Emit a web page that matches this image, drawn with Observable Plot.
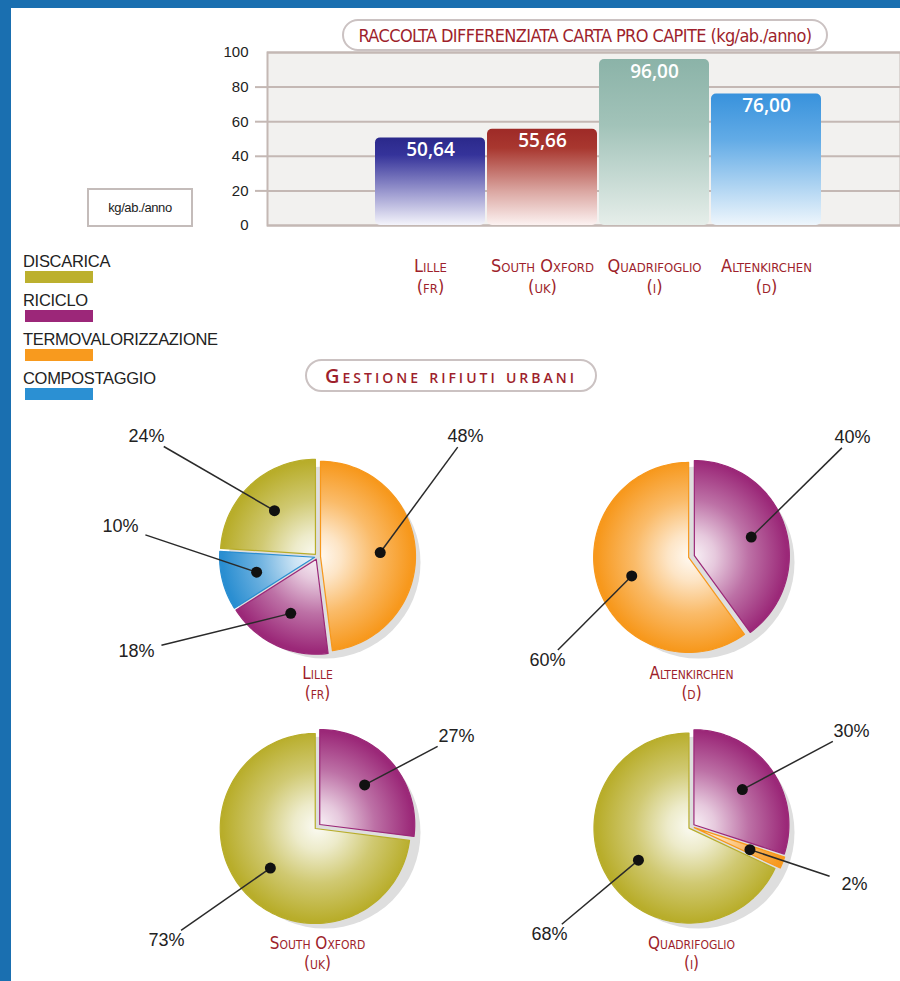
<!DOCTYPE html>
<html>
<head>
<meta charset="utf-8">
<script src="https://cdn.jsdelivr.net/npm/d3@7"></script>
<script src="https://cdn.jsdelivr.net/npm/@observablehq/plot@0.6"></script>
<style>
html, body { margin: 0; padding: 0; background: #fff; }
#page { position: relative; width: 900px; height: 981px; overflow: hidden; background: #fff; font-family: "Liberation Sans", Arial, sans-serif; }
.band { position: absolute; background: #1a6fb0; z-index: 5; }
.pill { position: absolute; box-sizing: border-box; background: #fff; border: 2px solid #cbc2c2; border-radius: 17px; display: flex; align-items: center; justify-content: center; color: #9e1f2c; white-space: nowrap; z-index: 3; }
#title1 { left: 342px; top: 19px; width: 486px; height: 32px; font-family: "DejaVu Sans Condensed", "Liberation Sans Narrow", sans-serif; font-size: 18px; letter-spacing: -0.6px; }
#title2 { left: 305px; top: 359px; width: 292px; height: 33px; font-family: "Open Sans", sans-serif; font-weight: 600; font-size: 20px; font-variant: small-caps; letter-spacing: 3px; }
#unitbox { position: absolute; left: 87px; top: 188px; width: 106px; height: 39px; box-sizing: border-box; border: 2px solid #c4bcba; background: #fff; font-size: 13px; letter-spacing: -0.4px; color: #222; display: flex; align-items: center; justify-content: center; z-index: 3; }
.legend-item { position: absolute; left: 23px; font-size: 16.5px; letter-spacing: -0.3px; color: #222; line-height: 15px; }
.legend-swatch { position: absolute; left: 25px; width: 68px; height: 12px; }
#bars, #pies { position: absolute; left: 0; }
#bars { top: 0; }
#pies { top: 400px; }
</style>
</head>
<body>
<div id="page">
  <div class="band" style="left:0;top:0;width:900px;height:8px"></div>
  <div class="band" style="left:0;top:0;width:11px;height:981px"></div>
  <div id="bars"></div>
  <div id="pies"></div>
  <div class="pill" id="title1">RACCOLTA DIFFERENZIATA CARTA PRO CAPITE (kg/ab./anno)</div>
  <div id="unitbox">kg/ab./anno</div>
  <div class="pill" id="title2">Gestione rifiuti urbani</div>
  <div id="legend"></div>
</div>
<script>
// ---------------- DATA ----------------
const cities = ["Lille", "South Oxford", "Quadrifoglio", "Altenkirchen"];
const countryCodes = ["fr", "uk", "i", "d"];
const paperPerCapita = [50.64, 55.66, 96.00, 76.00];
const yTicks = [0, 20, 40, 60, 80, 100];

const legendCategories = ["Discarica", "Riciclo", "Termovalorizzazione", "Compostaggio"];

const pieCities = ["Lille", "Altenkirchen", "South Oxford", "Quadrifoglio"];
const pieCountries = ["fr", "d", "uk", "i"];
const lilleCats = ["Termovalorizzazione", "Riciclo", "Compostaggio", "Discarica"];
const lilleShares = [48, 18, 10, 24];
const altenkirchenCats = ["Riciclo", "Termovalorizzazione"];
const altenkirchenShares = [40, 60];
const southOxfordCats = ["Riciclo", "Discarica"];
const southOxfordShares = [27, 73];
const quadrifoglioCats = ["Riciclo", "Termovalorizzazione", "Discarica"];
const quadrifoglioShares = [30, 2, 68];

// ---------------- STYLE / LAYOUT ----------------
const catColors = {
  Discarica: "#b8ad2a",
  Riciclo: "#9b2878",
  Termovalorizzazione: "#f7981c",
  Compostaggio: "#2a8ed1"
};
const legendColors = {
  Discarica: "#bcb02e",
  Riciclo: "#9c2779",
  Termovalorizzazione: "#f89a1e",
  Compostaggio: "#2b90d3"
};
const barStops = [
  [["0", "#2b298b"], ["0.2", "#35339a"], ["0.65", "#a19fd2"], ["1", "#f4f4fb"]],
  [["0", "#9e2a27"], ["0.2", "#a8372f"], ["0.65", "#dba7a2"], ["1", "#fcf2f1"]],
  [["0", "#8bb3a8"], ["0.4", "#a2c3b9"], ["1", "#e6eeea"]],
  [["0", "#3892dc"], ["0.35", "#62abe6"], ["1", "#eef6fc"]]
];
const pieGrid = { "Lille": [0, 0], "Altenkirchen": [1, 0], "South Oxford": [0, 1], "Quadrifoglio": [1, 1] };
const gridX = [317, 691];
const gridY = [156, 426];
const R = 95;
const EXPLODE = 3;
// text-centre offsets of the percentage labels from each pie centre (annotation layout)
const labelOffsets = {
  "Lille": [[148, -120], [-181, 95], [-197, -30], [-171, -120]],
  "Altenkirchen": [[161, -119], [-144, 104]],
  "South Oxford": [[139, -90], [-151, 114]],
  "Quadrifoglio": [[160, -95], [163, 58], [-142, 108]]
};
const red = "#9e1f2c";
const capsFont = "DejaVu Sans Condensed, sans-serif";

const page = d3.select("#page");

// ---------- gradient defs ----------
const defsSvg = page.append("svg").attr("width", 0).attr("height", 0)
  .style("position", "absolute").style("left", 0).style("top", 0);
const defs = defsSvg.append("defs");
barStops.forEach((stops, i) => {
  const g = defs.append("linearGradient").attr("id", "bar" + i)
    .attr("x1", 0).attr("y1", 0).attr("x2", 0).attr("y2", 1);
  stops.forEach(([o, c]) => g.append("stop").attr("offset", o).attr("stop-color", c));
});

// ---------- legend ----------
const legend = d3.select("#legend");
legendCategories.forEach((c, i) => {
  const top = 254 + i * 39;
  legend.append("div").attr("class", "legend-item").style("top", top + "px").text(c.toUpperCase());
  legend.append("div").attr("class", "legend-swatch").style("top", (top + 17) + "px").style("background", legendColors[c]);
});

// ---------- bar chart ----------
const fmt = v => d3.format(".2f")(v).replace(".", ",");
const barData = cities.map((c, i) => ({ city: c, country: countryCodes[i], value: paperPerCapita[i], grad: `url(#bar${i})` }));

const barPlot = Plot.plot({
  width: 900,
  height: 300,
  marginTop: 52,
  marginBottom: 75,
  marginLeft: 267,
  marginRight: 0,
  style: { background: "transparent", overflow: "visible", fontFamily: "Liberation Sans, Arial, sans-serif" },
  x: { domain: cities, range: [371, 824], padding: 0.02, axis: null, label: null },
  y: { domain: [0, 100], axis: null, label: null },
  color: { type: "identity" },
  marks: [
    Plot.frame({ fill: "#f2f1ef", stroke: "#c4b8b4", strokeWidth: 2 }),
    Plot.ruleY(yTicks, { stroke: "#c4b8b4", strokeWidth: 2 }),
    Plot.axisY(yTicks.filter(v => v > 0 && v < 100), { tickSize: 12, tickFormat: () => "", stroke: "#c4b8b4", strokeWidth: 2, label: null }),
    Plot.axisY(yTicks, { tickSize: 0, tickPadding: 19, fontSize: 15, color: "#222", label: null }),
    Plot.barY(barData, { x: "city", y: "value", fill: "grad", rx: 5 }),
    Plot.text(barData, { x: "city", y: "value", text: d => fmt(d.value), dy: 12, fill: "white", fontSize: 19, fontWeight: 600, fontFamily: "Open Sans, sans-serif" }),
    Plot.text(barData, { x: "city", y: 0, text: d => `${d.city}\n(${d.country})`, dy: 31, lineAnchor: "top", lineHeight: 1.2, fill: red, fontSize: 18, fontVariant: "small-caps", fontFamily: capsFont, letterSpacing: "-0.6px" })
  ]
});
document.getElementById("bars").appendChild(barPlot);

// ---------- pies ----------
const pieSets = [
  ["Lille", lilleCats, lilleShares],
  ["Altenkirchen", altenkirchenCats, altenkirchenShares],
  ["South Oxford", southOxfordCats, southOxfordShares],
  ["Quadrifoglio", quadrifoglioCats, quadrifoglioShares]
];

const pieCenters = pieCities.map((name, i) => {
  const [gx, gy] = pieGrid[name];
  return { name, country: pieCountries[i], x: gridX[gx], y: gridY[gy] };
});

const slicePts = [];
const labels = [];
pieSets.forEach(([name, cats, shares], pi) => {
  const c = pieCenters.find(p => p.name === name);
  const total = d3.sum(shares);
  cats.forEach(cat => {
    const col = catColors[cat];
    const g = defs.append("radialGradient").attr("id", `pie${pi}-${cat}`)
      .attr("gradientUnits", "userSpaceOnUse")
      .attr("cx", c.x).attr("cy", c.y).attr("r", R).attr("fx", c.x).attr("fy", c.y);
    [[0, 0.05], [0.25, 0.25], [0.6, 0.66], [1, 1]].forEach(([o, t]) =>
      g.append("stop").attr("offset", o).attr("stop-color", d3.interpolateRgb("#ffffff", col)(t)));
  });
  let acc = 0;
  cats.forEach((cat, i) => {
    const a0 = acc / total * 2 * Math.PI;
    acc += shares[i];
    const a1 = acc / total * 2 * Math.PI;
    const mid = (a0 + a1) / 2;
    const ox = c.x + EXPLODE * Math.sin(mid), oy = c.y - EXPLODE * Math.cos(mid);
    const key = `${name}-${cat}`;
    const fill = `url(#pie${pi}-${cat})`;
    const stroke = catColors[cat];
    slicePts.push({ key, fill, stroke, x: ox, y: oy });
    const n = Math.max(2, Math.ceil((a1 - a0) / (Math.PI / 90)));
    for (let k = 0; k <= n; k++) {
      const a = a0 + (a1 - a0) * k / n;
      slicePts.push({ key, fill, stroke, x: ox + R * Math.sin(a), y: oy - R * Math.cos(a) });
    }
    const dx = ox + 0.63 * R * Math.sin(mid), dy = oy - 0.63 * R * Math.cos(mid);
    const [lox, loy] = labelOffsets[name][i];
    const lx = c.x + lox, ly = c.y + loy;
    const vx = dx - lx, vy = dy - ly, len = Math.hypot(vx, vy);
    const ux = vx / len, uy = vy / len;
    const hw = 23, hh = 9;
    const t = Math.min(Math.abs(ux) > 1e-6 ? hw / Math.abs(ux) : 1e9, Math.abs(uy) > 1e-6 ? hh / Math.abs(uy) : 1e9) + 2;
    labels.push({ text: shares[i] + "%", dx, dy, lx, ly, ex: lx + ux * t, ey: ly + uy * t });
  });
});

const piePlot = Plot.plot({
  width: 900,
  height: 581,
  margin: 0,
  style: { background: "transparent", overflow: "visible", fontFamily: "Liberation Sans, Arial, sans-serif" },
  x: { type: "identity", axis: null },
  y: { type: "identity", axis: null },
  color: { type: "identity" },
  marks: [
    Plot.dot(pieCenters, { x: "x", y: "y", r: R + 1, fill: "#dedede", dx: 7, dy: 6 }),
    Plot.line(slicePts, { x: "x", y: "y", z: "key", fill: "fill", stroke: "stroke", strokeWidth: 1.2, curve: "linear-closed" }),
    Plot.link(labels, { x1: "dx", y1: "dy", x2: "ex", y2: "ey", stroke: "#2a2a2a", strokeWidth: 1.5 }),
    Plot.dot(labels, { x: "dx", y: "dy", r: 5.5, fill: "#111" }),
    Plot.text(labels, { x: "lx", y: "ly", text: "text", fontSize: 18, fill: "#222", letterSpacing: "-0.8px" }),
    Plot.text(pieCenters, { x: "x", y: "y", text: d => `${d.name}\n(${d.country})`, dy: 108, lineAnchor: "top", lineHeight: 1.2, fill: red, fontSize: 17, fontVariant: "small-caps", fontFamily: capsFont, letterSpacing: "-0.6px" })
  ]
});
document.getElementById("pies").appendChild(piePlot);
</script>
</body>
</html>
